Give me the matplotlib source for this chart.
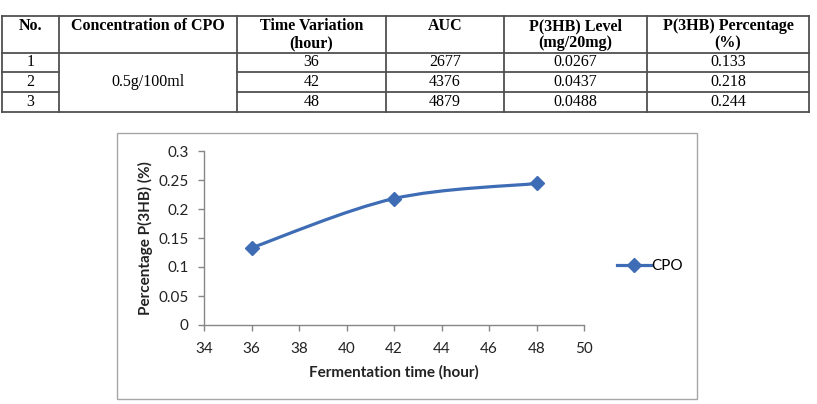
import numpy as np
import matplotlib.pyplot as plt
from matplotlib.path import Path
from matplotlib.patches import PathPatch
from matplotlib.lines import Line2D

# data
headers = ["No.", "Concentration of CPO", "Time Variation\n(hour)", "AUC",
           "P(3HB) Level\n(mg/20mg)", "P(3HB) Percentage\n(%)"]
row_no = ["1", "2", "3"]
concentration = "0.5g/100ml"
time_hours = [36, 42, 48]
auc = [2677, 4376, 4879]
level = ["0.0267", "0.0437", "0.0488"]
percentage = [0.133, 0.218, 0.244]
series_name = "CPO"

x_ticks = [34, 36, 38, 40, 42, 44, 46, 48, 50]
y_ticks = [0, 0.05, 0.1, 0.15, 0.2, 0.25, 0.3]
y_tick_labels = ["0", "0.05", "0.1", "0.15", "0.2", "0.25", "0.3"]

W, H = 817, 404
fig = plt.figure(figsize=(W / 100, H / 100), dpi=100)

# overlay in pixel coords for table and chart frame
bg = fig.add_axes([0, 0, 1, 1], zorder=0)
bg.set_xlim(0, W)
bg.set_ylim(H, 0)
bg.axis("off")

col_x = [2, 59, 237, 386, 504, 647, 809]
row_y = [16, 53, 72, 92, 112]
lc = "#505050"
lw = 1.3

# horizontal lines
bg.plot([col_x[0], col_x[-1]], [row_y[0], row_y[0]], color=lc, lw=lw)
bg.plot([col_x[0], col_x[-1]], [row_y[1], row_y[1]], color=lc, lw=lw)
for y in row_y[2:4]:
    bg.plot([col_x[0], col_x[1]], [y, y], color=lc, lw=lw)
    bg.plot([col_x[2], col_x[-1]], [y, y], color=lc, lw=lw)
bg.plot([col_x[0], col_x[-1]], [row_y[-1], row_y[-1]], color=lc, lw=lw)
# vertical lines
for x in col_x:
    bg.plot([x, x], [row_y[0], row_y[-1]], color=lc, lw=lw)

serif = "Liberation Serif"
fs_tab = 11.5
centers = [(col_x[i] + col_x[i + 1]) / 2 for i in range(6)]
for cx, h in zip(centers, headers):
    bg.text(cx, 18.5, h, ha="center", va="top", fontsize=fs_tab, fontweight="bold",
            family=serif, linespacing=1.08)

for i in range(3):
    cy = (row_y[i + 1] + row_y[i + 2]) / 2
    vals = [row_no[i], None, str(time_hours[i]), str(auc[i]), level[i],
            "%.3f" % percentage[i]]
    for cx, v in zip(centers, vals):
        if v is None:
            continue
        bg.text(cx, cy, v, ha="center", va="center", fontsize=fs_tab, family=serif)
bg.text(centers[1], (row_y[1] + row_y[-1]) / 2, concentration, ha="center",
        va="center", fontsize=fs_tab, family=serif)

# chart frame
bg.add_patch(plt.Rectangle((117, 133), 697 - 117, 399 - 133, fill=False,
                           edgecolor="#a6a6a6", lw=1.0))

# chart axes
ax = fig.add_axes([204 / W, 1 - 325 / H, (584 - 204) / W, (325 - 151) / H], zorder=1)
ax.patch.set_alpha(0)
ax.set_xlim(34, 50)
ax.set_ylim(0, 0.3)
for s in ["top", "right"]:
    ax.spines[s].set_visible(False)
for s in ["left", "bottom"]:
    ax.spines[s].set_color("#868686")
    ax.spines[s].set_linewidth(1.0)

sans = "Lato"
fs = 11
ax.set_xticks(x_ticks)
ax.set_xticklabels([str(v) for v in x_ticks], family=sans, fontsize=fs)
ax.set_yticks(y_ticks)
ax.set_yticklabels(y_tick_labels, family=sans, fontsize=fs)
ax.tick_params(direction="out", length=4, width=1.0, color="#868686",
               labelcolor="#222222")
ax.tick_params(axis="x", pad=8)
ax.tick_params(axis="y", pad=7)

ax.set_xlabel("Fermentation time (hour)", family=sans, fontsize=fs,
              fontweight="bold", labelpad=7, color="#222222")
ax.set_ylabel("Percentage P(3HB) (%)", family=sans, fontsize=fs,
              fontweight="bold", labelpad=4, color="#222222")

# smoothed line (Bezier through the points, like a spreadsheet smooth line)
color = "#3E6DB5"
px = np.array(time_hours, dtype=float)
py = np.array(percentage, dtype=float)
ext_x = np.concatenate([[px[0]], px, [px[-1]]])
ext_y = np.concatenate([[py[0]], py, [py[-1]]])
verts = [(px[0], py[0])]
codes = [Path.MOVETO]
for i in range(len(px) - 1):
    j = i + 1
    c1 = (ext_x[j] + (ext_x[j + 1] - ext_x[j - 1]) / 6,
          ext_y[j] + (ext_y[j + 1] - ext_y[j - 1]) / 6)
    c2 = (ext_x[j + 1] - (ext_x[j + 2] - ext_x[j]) / 6,
          ext_y[j + 1] - (ext_y[j + 2] - ext_y[j]) / 6)
    verts += [c1, c2, (px[i + 1], py[i + 1])]
    codes += [Path.CURVE4] * 3
ax.add_patch(PathPatch(Path(verts, codes), fill=False, edgecolor=color,
                       lw=2.3, capstyle="round", joinstyle="round"))
ax.plot(time_hours, percentage, linestyle="none", marker="D", markersize=6.8,
        color=color, label=series_name, clip_on=False)

handle = Line2D([], [], color=color, lw=2.3, marker="D", markersize=6.8)
fig.legend([handle], [series_name], loc="center left",
           bbox_to_anchor=(617 / W, 1 - 266 / H), frameon=False,
           borderpad=0, borderaxespad=0, handlelength=2.2, handletextpad=0.05,
           prop={"family": sans, "size": fs})

fig.savefig("out.png", dpi=100)
